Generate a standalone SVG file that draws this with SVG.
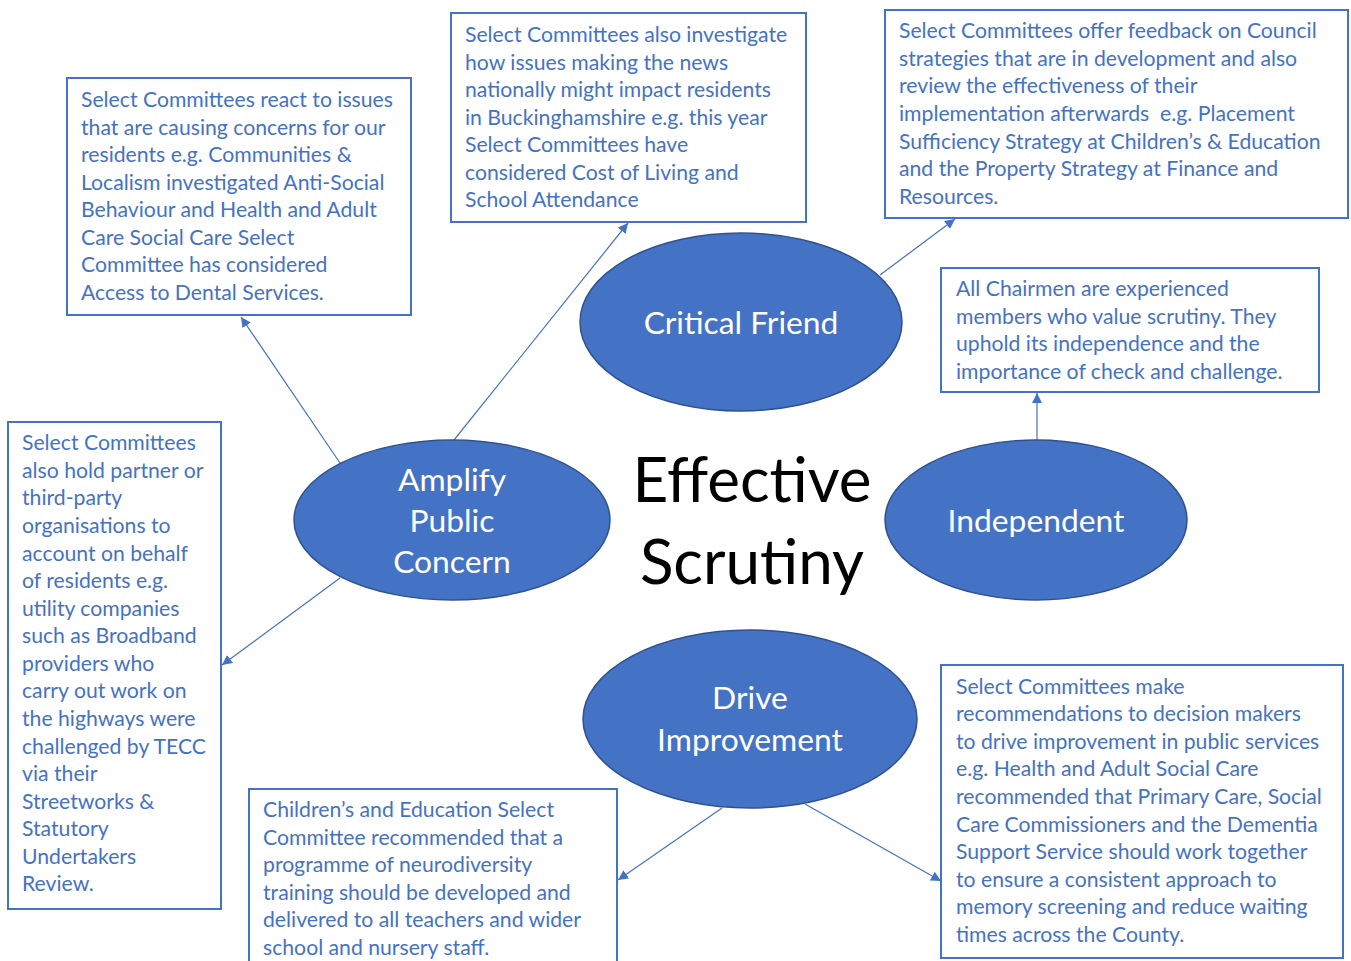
<svg xmlns="http://www.w3.org/2000/svg" width="1351" height="961" viewBox="0 0 1351 961">
<style>
.box{fill:#fff;stroke:#4472C4;stroke-width:2}
.bt{font-family:Lato,"Open Sans","Liberation Sans",sans-serif;font-size:21.2px;fill:#4472C4}
.ell{fill:#4472C4;stroke:#2F528F;stroke-width:1.5}
.et{font-family:Lato,"Open Sans","Liberation Sans",sans-serif;font-size:31.8px;fill:#fff;text-anchor:middle}
.ct{font-family:Lato,"Open Sans","Liberation Sans",sans-serif;font-size:62px;fill:#000;text-anchor:middle}
.con{stroke:#4472C4;stroke-width:1.2;fill:none;marker-end:url(#ah)}
</style>
<defs>
<marker id="ah" viewBox="0 0 10 10" refX="10" refY="5" markerWidth="10" markerHeight="10" markerUnits="userSpaceOnUse" orient="auto">
<path d="M0,0 L10,5 L0,10 Z" fill="#4472C4"/>
</marker>
</defs>
<rect width="1351" height="961" fill="#fff"/>

<g id="connectors">
<line class="con" x1="340" y1="463" x2="241" y2="317"/>
<line class="con" x1="454" y1="440" x2="628" y2="223"/>
<line class="con" x1="880" y1="275" x2="955" y2="219"/>
<line class="con" x1="1037" y1="440" x2="1037" y2="393"/>
<line class="con" x1="340" y1="578" x2="222" y2="665"/>
<line class="con" x1="722" y1="808" x2="618" y2="880"/>
<line class="con" x1="805" y1="804" x2="941" y2="881"/>
</g>

<g id="center-title">
<text class="ct" x="752" y="502">Effective</text>
<text class="ct" x="752" y="584">Scrutiny</text>
</g>

<g id="critical-friend">
<ellipse class="ell" cx="741" cy="322" rx="161" ry="89"/>
<text class="et" x="741" y="334">Critical Friend</text>
</g>

<g id="amplify">
<ellipse class="ell" cx="452" cy="520" rx="158" ry="80"/>
<text class="et" x="452" y="491">Amplify</text>
<text class="et" x="452" y="532">Public</text>
<text class="et" x="452" y="573">Concern</text>
</g>

<g id="independent">
<ellipse class="ell" cx="1036" cy="520" rx="151" ry="80"/>
<text class="et" x="1036" y="532">Independent</text>
</g>

<g id="drive">
<ellipse class="ell" cx="750" cy="719" rx="167" ry="89"/>
<text class="et" x="750" y="709">Drive</text>
<text class="et" x="750" y="751">Improvement</text>
</g>

<g id="box-react">
<rect class="box" x="67" y="78" width="344" height="237"/>
<text class="bt" x="81" y="107">Select Committees react to issues</text>
<text class="bt" x="81" y="135">that are causing concerns for our</text>
<text class="bt" x="81" y="162">residents e.g. Communities &amp;</text>
<text class="bt" x="81" y="190">Localism investigated Anti-Social</text>
<text class="bt" x="81" y="217">Behaviour and Health and Adult</text>
<text class="bt" x="81" y="245">Care Social Care Select</text>
<text class="bt" x="81" y="272">Committee has considered</text>
<text class="bt" x="81" y="300">Access to Dental Services.</text>
</g>

<g id="box-news">
<rect class="box" x="451" y="13" width="355" height="209"/>
<text class="bt" x="465" y="42">Select Committees also investigate</text>
<text class="bt" x="465" y="70">how issues making the news</text>
<text class="bt" x="465" y="97">nationally might impact residents</text>
<text class="bt" x="465" y="125">in Buckinghamshire e.g. this year</text>
<text class="bt" x="465" y="152">Select Committees have</text>
<text class="bt" x="465" y="180">considered Cost of Living and</text>
<text class="bt" x="465" y="207">School Attendance</text>
</g>

<g id="box-feedback">
<rect class="box" x="885" y="10" width="463" height="208"/>
<text class="bt" x="899" y="38">Select Committees offer feedback on Council</text>
<text class="bt" x="899" y="66">strategies that are in development and also</text>
<text class="bt" x="899" y="93">review the effectiveness of their</text>
<text class="bt" x="899" y="121" xml:space="preserve">implementation afterwards  e.g. Placement</text>
<text class="bt" x="899" y="149">Sufficiency Strategy at Children’s &amp; Education</text>
<text class="bt" x="899" y="176">and the Property Strategy at Finance and</text>
<text class="bt" x="899" y="204">Resources.</text>
</g>

<g id="box-chairmen">
<rect class="box" x="941" y="268" width="378" height="124"/>
<text class="bt" x="956" y="296">All Chairmen are experienced</text>
<text class="bt" x="956" y="324">members who value scrutiny. They</text>
<text class="bt" x="956" y="351">uphold its independence and the</text>
<text class="bt" x="956" y="379">importance of check and challenge.</text>
</g>

<g id="box-partners">
<rect class="box" x="8" y="422" width="213" height="487"/>
<text class="bt" x="22" y="450">Select Committees</text>
<text class="bt" x="22" y="478">also hold partner or</text>
<text class="bt" x="22" y="505">third-party</text>
<text class="bt" x="22" y="533">organisations to</text>
<text class="bt" x="22" y="561">account on behalf</text>
<text class="bt" x="22" y="588">of residents e.g.</text>
<text class="bt" x="22" y="616">utility companies</text>
<text class="bt" x="22" y="643">such as Broadband</text>
<text class="bt" x="22" y="671">providers who</text>
<text class="bt" x="22" y="698">carry out work on</text>
<text class="bt" x="22" y="726">the highways were</text>
<text class="bt" x="22" y="754">challenged by TECC</text>
<text class="bt" x="22" y="781">via their</text>
<text class="bt" x="22" y="809">Streetworks &amp;</text>
<text class="bt" x="22" y="836">Statutory</text>
<text class="bt" x="22" y="864">Undertakers</text>
<text class="bt" x="22" y="891">Review.</text>
</g>

<g id="box-neuro">
<rect class="box" x="249" y="789" width="368" height="180"/>
<text class="bt" x="263" y="817">Children’s and Education Select</text>
<text class="bt" x="263" y="845">Committee recommended that a</text>
<text class="bt" x="263" y="872">programme of neurodiversity</text>
<text class="bt" x="263" y="900">training should be developed and</text>
<text class="bt" x="263" y="927">delivered to all teachers and wider</text>
<text class="bt" x="263" y="955">school and nursery staff.</text>
</g>

<g id="box-recommend">
<rect class="box" x="941" y="665" width="402" height="293"/>
<text class="bt" x="956" y="694">Select Committees make</text>
<text class="bt" x="956" y="721">recommendations to decision makers</text>
<text class="bt" x="956" y="749">to drive improvement in public services</text>
<text class="bt" x="956" y="776">e.g. Health and Adult Social Care</text>
<text class="bt" x="956" y="804">recommended that Primary Care, Social</text>
<text class="bt" x="956" y="832">Care Commissioners and the Dementia</text>
<text class="bt" x="956" y="859">Support Service should work together</text>
<text class="bt" x="956" y="887">to ensure a consistent approach to</text>
<text class="bt" x="956" y="914">memory screening and reduce waiting</text>
<text class="bt" x="956" y="942">times across the County.</text>
</g>
</svg>
